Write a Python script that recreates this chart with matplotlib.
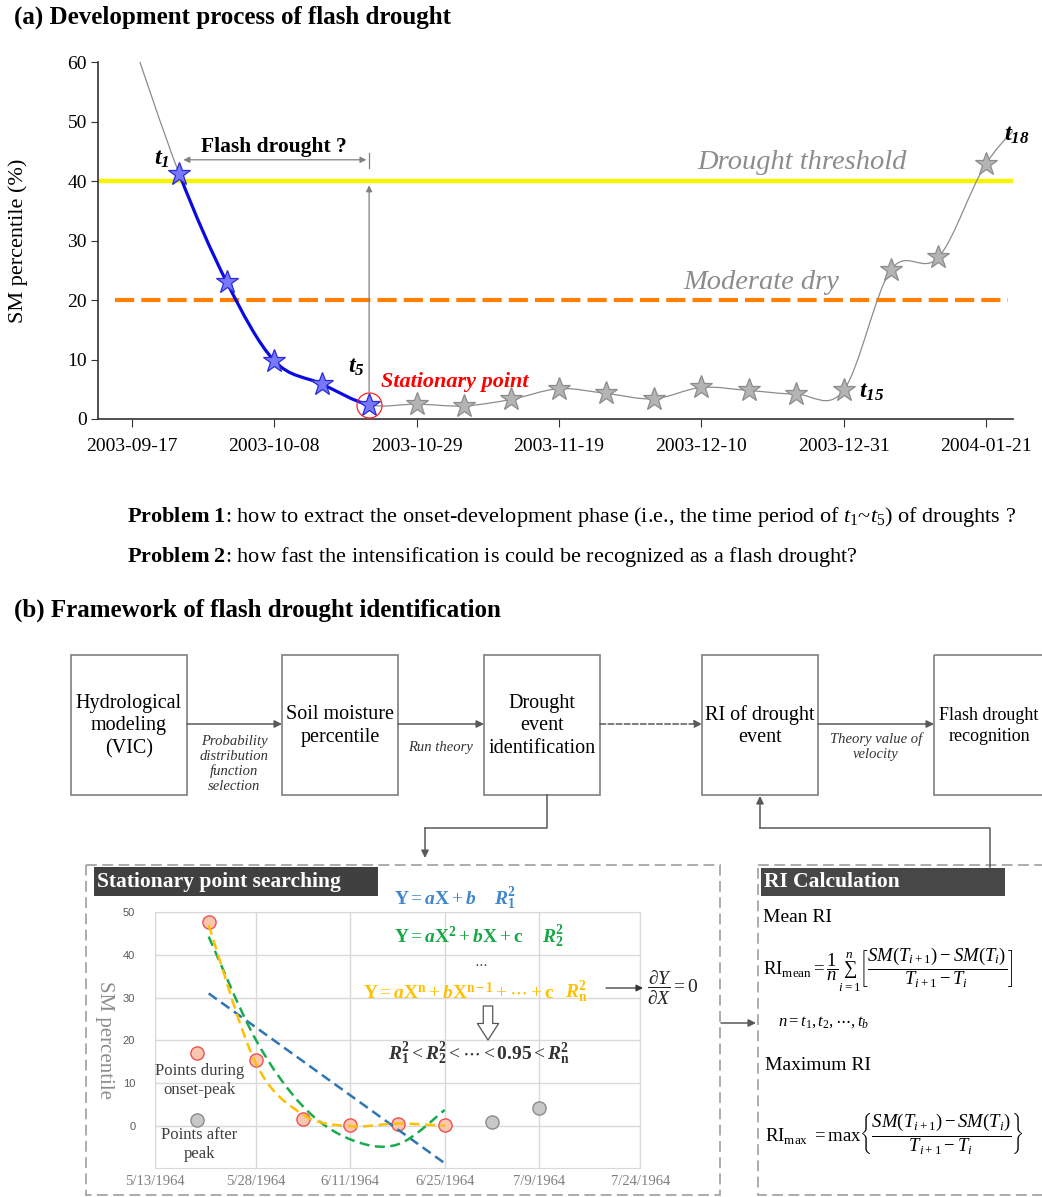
import numpy as np
import matplotlib
matplotlib.use('Agg')
import matplotlib.pyplot as plt
import matplotlib.dates as mdates
import matplotlib.transforms as mtransforms
from matplotlib.lines import Line2D
from matplotlib.path import Path
from matplotlib.patches import PathPatch, Rectangle, FancyArrowPatch

plt.rcParams['font.family'] = ['Liberation Serif', 'DejaVu Serif']
plt.rcParams['mathtext.fontset'] = 'custom'
plt.rcParams['mathtext.rm'] = 'Liberation Serif'
plt.rcParams['mathtext.it'] = 'Liberation Serif:italic'
plt.rcParams['mathtext.bf'] = 'Liberation Serif:bold'
plt.rcParams['mathtext.bfit'] = 'Liberation Serif:italic:bold'

# (a) weekly SM percentile; first value is the lead-in before t1, last one runs off the axis
sm_dates = ['2003-09-17', '2003-09-24', '2003-10-01', '2003-10-08', '2003-10-15',
            '2003-10-22', '2003-10-29', '2003-11-05', '2003-11-12', '2003-11-19',
            '2003-11-26', '2003-12-03', '2003-12-10', '2003-12-17', '2003-12-24',
            '2003-12-31', '2004-01-07', '2004-01-14', '2004-01-21', '2004-01-28']
sm_values = [64.0, 41.2, 23.0, 9.8, 5.9, 2.4, 2.5, 2.2, 3.3, 5.1, 4.3, 3.4,
             5.3, 4.8, 4.2, 4.8, 25.1, 27.2, 42.9, 52.0]
tick_dates_a = ['2003-09-17', '2003-10-08', '2003-10-29', '2003-11-19',
                '2003-12-10', '2003-12-31', '2004-01-21']
drought_threshold = 40
moderate_dry = 20
t_first, t_peak, t_rise, t_last = 1, 5, 15, 18

# (b) inset: stationary point searching
ins_dates = ['1964-05-21', '1964-05-28', '1964-06-04', '1964-06-11',
             '1964-06-18', '1964-06-25', '1964-07-02', '1964-07-09']
ins_values = [47.7, 15.3, 1.5, 0.2, 0.3, 0.1, 0.9, 4.2]
n_onset = 6
lin_fit = [31.0, -8.8]                          # at first and sixth date
quad_fit = [44.3, 20.1, 4.5, -3.2, -4.4, 3.7]
poly_fit = [47.0, 14.6, 2.6, -0.1, 0.5, 0.0]
ins_tick_dates = ['1964-05-13', '1964-05-28', '1964-06-11', '1964-06-25',
                  '1964-07-09', '1964-07-24']
ins_tick_labels = ['5/13/1964', '5/28/1964', '6/11/1964', '6/25/1964',
                   '7/9/1964', '7/24/1964']

box_labels = ['Hydrological\nmodeling\n(VIC)', 'Soil moisture\npercentile',
              'Drought\nevent\nidentification', 'RI of drought\nevent',
              'Flash drought\nrecognition']
arrow_labels = ['Probability\ndistribution\nfunction\nselection', 'Run theory', '',
                'Theory value of\nvelocity']


def to_num(dates):
    return mdates.date2num(np.array(dates, dtype='datetime64[D]'))


def smooth_path(x, y, start, stop):
    # excel-like smoothed line (cubic bezier through the points)
    verts = [(x[start], y[start])]
    codes = [Path.MOVETO]
    n = len(x)
    for i in range(start, stop):
        i0 = max(i - 1, 0)
        i3 = min(i + 2, n - 1)
        c1 = (x[i] + (x[i + 1] - x[i0]) / 6, y[i] + (y[i + 1] - y[i0]) / 6)
        c2 = (x[i + 1] - (x[i3] - x[i]) / 6, y[i + 1] - (y[i3] - y[i]) / 6)
        verts += [c1, c2, (x[i + 1], y[i + 1])]
        codes += [Path.CURVE4] * 3
    return Path(verts, codes)


W, H = 1042, 1197
fig = plt.figure(figsize=(W / 100, H / 100), dpi=100)
pix = mtransforms.Affine2D().scale(1 / W, -1 / H).translate(0, 1) + fig.transFigure

# ---------------- (a) ----------------
ax = fig.add_axes([98 / W, 1 - 419 / H, 915 / W, 356.7 / H])
x = to_num(sm_dates)
y = np.array(sm_values)
ax.set_xlim(to_num(['2003-09-12'])[0], to_num(['2004-01-25'])[0])
ax.set_ylim(0, 60)

ax.axhline(drought_threshold, color='#f5f500', lw=3.2, zorder=1)
ax.axhline(moderate_dry, xmin=0.019, xmax=0.994, color='#ff8000', lw=3,
           ls=(0, (4.6, 1.7)), zorder=1)

ax.add_patch(PathPatch(smooth_path(x, y, 0, len(x) - 1), fill=False,
                       ec='#8c8c8c', lw=0.9, zorder=2))
ax.add_patch(PathPatch(smooth_path(x, y, t_first, t_peak), fill=False,
                       ec='#0a0ae0', lw=2.3, zorder=3))
ax.plot(x[t_first:t_peak + 1], y[t_first:t_peak + 1], '*', ms=17,
        mfc='#7878ff', mec='#2a2ad8', mew=0.9, zorder=4)
ax.plot(x[t_peak + 1:t_last + 1], y[t_peak + 1:t_last + 1], '*', ms=17,
        mfc='#b4b4b4', mec='#8c8c8c', mew=0.9, zorder=4)
ax.plot(x[t_peak], y[t_peak], 'o', ms=18, mfc='none', mec='#ff2020', mew=0.9, zorder=5)

# flash drought bracket and vertical arrow
bracket_y = 43.6
ax.annotate('', xy=(x[t_peak] - 0.4, bracket_y), xytext=(x[t_first] + 0.6, bracket_y),
            arrowprops=dict(arrowstyle='<|-|>', color='#808080', lw=0.9,
                            mutation_scale=9, shrinkA=0, shrinkB=0))
ax.plot([x[t_peak], x[t_peak]], [42.2, 44.8], color='#808080', lw=0.9)
ax.annotate('', xy=(x[t_peak], drought_threshold - 0.7), xytext=(x[t_peak], y[t_peak] + 2.2),
            arrowprops=dict(arrowstyle='-|>', color='#808080', lw=0.9,
                            mutation_scale=9, shrinkA=0, shrinkB=0))
ax.text((x[t_first] + x[t_peak]) / 2, 44.9, 'Flash drought ?', ha='center',
        va='baseline', fontsize=15.5, fontweight='bold')

tl = dict(textcoords='offset points', va='baseline', fontsize=17.5)
ax.annotate(r'$\mathbfit{t_1}$', (x[t_first], y[t_first]), (-7, 6.5), ha='right', **tl)
ax.annotate(r'$\mathbfit{t_5}$', (x[t_peak], y[t_peak]), (-3, 23), ha='right', **tl)
ax.annotate(r'$\mathbfit{t_{15}}$', (x[t_rise], y[t_rise]), (11, -5), ha='left', **tl)
ax.annotate(r'$\mathbfit{t_{18}}$', (x[t_last], y[t_last]), (13, 17), ha='left', **tl)
ax.annotate('Stationary point', (x[t_peak], y[t_peak]), (8.5, 13), textcoords='offset points',
            ha='left', va='baseline', fontsize=16, color='#ff0000',
            fontstyle='italic', fontweight='bold')

ax.text(0.769, 42.0, 'Drought threshold', transform=ax.get_yaxis_transform(),
        ha='center', va='baseline', fontsize=20.5, fontstyle='italic', color='#8c8c8c')
ax.text(0.725, 21.9, 'Moderate dry', transform=ax.get_yaxis_transform(),
        ha='center', va='baseline', fontsize=20.5, fontstyle='italic', color='#8c8c8c')

ax.set_xticks(to_num(tick_dates_a))
ax.set_xticklabels(tick_dates_a)
ax.set_yticks(range(0, 61, 10))
for s in ['top', 'right']:
    ax.spines[s].set_visible(False)
for s in ['left', 'bottom']:
    ax.spines[s].set_color('#333333')
    ax.spines[s].set_linewidth(1.2)
ax.tick_params(axis='x', length=6, pad=8, labelsize=14, color='#333333')
ax.tick_params(axis='y', length=5, pad=3, labelsize=14, color='#333333')
ax.set_ylabel('SM percentile (%)', fontsize=16)
ax.yaxis.set_label_coords(-0.076, 0.5)

# ---------------- text blocks ----------------
fig.text(14, 17, '(a) Development process of flash drought', transform=pix,
         fontsize=18, fontweight='bold', va='center')
fig.text(127, 517, r'$\mathbf{Problem\ 1}$: how to extract the onset-development phase '
         r'(i.e., the time period of $t_1$~$t_5$) of droughts ?', transform=pix,
         fontsize=16, va='center')
fig.text(127, 557, r'$\mathbf{Problem\ 2}$: how fast the intensification is could be '
         'recognized as a flash drought?', transform=pix, fontsize=16, va='center')
fig.text(14, 610, '(b) Framework of flash drought identification', transform=pix,
         fontsize=18, fontweight='bold', va='center')

# ---------------- flowchart ----------------
box_left = [71, 282, 484, 702, 934]
box_w, box_top, box_h, mid_y = 116, 655, 140, 726
for bx, lab in zip(box_left, box_labels):
    fig.add_artist(Rectangle((bx, box_top), box_w, box_h, transform=pix, fill=False,
                             ec='#7f7f7f', lw=1.2))
    last = bx == box_left[-1]
    fig.text(bx + box_w / 2 - (3 if last else 0), mid_y, lab, transform=pix,
             ha='center', va='center', fontsize=13 if last else 14.5, linespacing=1.25)

for k in range(4):
    x0 = box_left[k] + box_w
    x1 = box_left[k + 1]
    fig.add_artist(FancyArrowPatch((x0, 724), (x1, 724), transform=pix,
                                   arrowstyle='-|>', mutation_scale=11, color='#595959',
                                   lw=1.1, ls='--' if k == 2 else '-',
                                   shrinkA=0, shrinkB=0))
    if arrow_labels[k]:
        ly = 764 if k == 0 else 747
        fig.text((x0 + x1) / 2, ly, arrow_labels[k], transform=pix, ha='center',
                 va='center', fontsize=10.5, fontstyle='italic', color='#333333',
                 linespacing=1.2)

fig.add_artist(Line2D([547, 547, 425], [795, 828, 828], transform=pix,
                      color='#595959', lw=1.1))
fig.add_artist(FancyArrowPatch((425, 828), (425, 858), transform=pix, arrowstyle='-|>',
                               mutation_scale=11, color='#595959', lw=1.1,
                               shrinkA=0, shrinkB=0))
fig.add_artist(Line2D([990, 990, 760], [867, 828, 828], transform=pix,
                      color='#595959', lw=1.1))
fig.add_artist(FancyArrowPatch((760, 828), (760, 796), transform=pix, arrowstyle='-|>',
                               mutation_scale=11, color='#595959', lw=1.1,
                               shrinkA=0, shrinkB=0))
fig.add_artist(FancyArrowPatch((721, 1023), (756, 1023), transform=pix, arrowstyle='-|>',
                               mutation_scale=11, color='#595959', lw=1.1,
                               shrinkA=0, shrinkB=0))

# dashed panels and their title bars
fig.add_artist(Rectangle((86, 865), 634, 330, transform=pix, fill=False,
                         ec='#a6a6a6', lw=1.3, ls=(0, (6, 3))))
fig.add_artist(Rectangle((758, 865), 300, 330, transform=pix, fill=False,
                         ec='#a6a6a6', lw=1.3, ls=(0, (6, 3))))
fig.add_artist(Rectangle((94, 867), 284, 29, transform=pix, fc='#404040', ec='none'))
fig.text(97, 882, 'Stationary point searching', transform=pix, color='white',
         fontsize=15.5, fontweight='bold', va='center')
fig.add_artist(Rectangle((761, 868), 244, 28, transform=pix, fc='#474747', ec='none'))
fig.text(764, 882, 'RI Calculation', transform=pix, color='white',
         fontsize=15.5, fontweight='bold', va='center')

# ---------------- inset chart ----------------
ax2 = fig.add_axes([154.7 / W, 1 - 1168.4 / H, 485.7 / W, 256.1 / H])
xi = to_num(ins_dates)
ax2.set_xlim(to_num(ins_tick_dates)[0], to_num(ins_tick_dates)[-1])
ax2.set_ylim(-10, 50)
ax2.set_yticks(range(0, 51, 10))
ax2.set_xticks(to_num(ins_tick_dates))
ax2.set_xticklabels(ins_tick_labels, fontsize=10.5, color='#7f7f7f')
for lab in ax2.get_yticklabels():
    lab.set_fontfamily('Liberation Sans')
    lab.set_fontsize(8)
    lab.set_color('#595959')
ax2.grid(True, color='#d9d9d9', lw=1)
ax2.set_axisbelow(True)
for s in ax2.spines.values():
    s.set_color('#d9d9d9')
ax2.tick_params(length=0)
ax2.tick_params(axis='y', pad=14)
ax2.tick_params(axis='x', pad=5)
ax2.set_ylabel('SM percentile', rotation=270, fontsize=15, color='#8c8c8c', va='center')
ax2.yaxis.set_label_coords(-0.103, 0.5)

ax2.plot(xi[:n_onset], ins_values[:n_onset], 'o', ms=9.5, mfc='#f9c6b0', mec='#f05050',
         mew=1, zorder=3)
ax2.plot(xi[n_onset:], ins_values[n_onset:], 'o', ms=9.5, mfc='#c8c8c8', mec='#8c8c8c',
         mew=1, zorder=3)
ax2.plot([xi[0], xi[n_onset - 1]], lin_fit, color='#2e75b6', lw=1.8, ls=(0, (4, 2.2)),
         zorder=4)
ax2.add_patch(PathPatch(smooth_path(xi[:n_onset], quad_fit, 0, n_onset - 1), fill=False,
                        ec='#1aab4b', lw=1.8, ls=(0, (4, 2.2)), zorder=4))
ax2.add_patch(PathPatch(smooth_path(xi[:n_onset], poly_fit, 0, n_onset - 1), fill=False,
                        ec='#ffc000', lw=1.8, ls=(0, (4, 2.2)), zorder=5))

# legend keys
ax2.plot(0.088, 0.449, 'o', ms=9.5, mfc='#f9c6b0', mec='#f05050', mew=1,
         transform=ax2.transAxes, clip_on=False)
ax2.plot(0.088, 0.189, 'o', ms=9.5, mfc='#c8c8c8', mec='#8c8c8c', mew=1,
         transform=ax2.transAxes, clip_on=False)
ax2.text(0.092, 0.345, 'Points during\nonset-peak', transform=ax2.transAxes, ha='center',
         va='center', fontsize=12, color='#404040', linespacing=1.25)
ax2.text(0.092, 0.092, 'Points after\npeak', transform=ax2.transAxes, ha='center',
         va='center', fontsize=12, color='#404040', linespacing=1.25)

# fitting equations
eq = dict(transform=pix, va='center', fontsize=14)
fig.text(394, 899, r'$\mathbf{Y}=\mathbfit{a}\mathbf{X}+\mathbfit{b}$', color='#3f86cc', **eq)
fig.text(494, 899, r'$\mathbfit{R}_{\mathbf{1}}^{\mathbf{2}}$', color='#3f86cc', **eq)
fig.text(394, 937, r'$\mathbf{Y}=\mathbfit{a}\mathbf{X}^{\mathbf{2}}+\mathbfit{b}\mathbf{X}+\mathbf{c}$',
         color='#14a844', **eq)
fig.text(542, 937, r'$\mathbfit{R}_{\mathbf{2}}^{\mathbf{2}}$', color='#14a844', **eq)
fig.text(481, 964, r'$\cdots$', transform=pix, ha='center', va='center', fontsize=10,
         color='#404040')
fig.text(363, 992, r'$\mathbf{Y}=\mathbfit{a}\mathbf{X}^{\mathbf{n}}+\mathbfit{b}'
         r'\mathbf{X}^{\mathbf{n-1}}+\cdots+\mathbf{c}$', color='#ffc000', **eq)
fig.text(565, 992, r'$\mathbfit{R}_{\mathbf{n}}^{\mathbf{2}}$', color='#ffc000', **eq)
fig.add_artist(FancyArrowPatch((606, 988), (643, 988), transform=pix, arrowstyle='-|>',
                               mutation_scale=10, color='#333333', lw=0.9,
                               shrinkA=0, shrinkB=0))
fig.text(647, 988, r'$\dfrac{\partial Y}{\partial X}=0$', transform=pix, va='center',
         fontsize=14, color='#222222')
fig.add_artist(FancyArrowPatch((488, 1006), (488, 1040), transform=pix,
                               arrowstyle='simple,head_length=0.7,head_width=0.9,tail_width=0.4',
                               mutation_scale=17, fc='white', ec='#555555', lw=0.9,
                               shrinkA=0, shrinkB=0))
fig.text(388, 1054, r'$\mathbfit{R}_{\mathbf{1}}^{\mathbf{2}}<\mathbfit{R}_{\mathbf{2}}^{\mathbf{2}}'
         r'<\cdots<\mathbf{0.95}<\mathbfit{R}_{\mathbf{n}}^{\mathbf{2}}$',
         color='#333333', **eq)

# RI calculation panel
fig.text(763, 918, 'Mean RI', transform=pix, fontsize=14, va='center')
fig.text(763, 970, r'$\mathrm{RI}_{\mathrm{mean}}=\dfrac{1}{n}\sum_{i=1}^{n}'
         r'\left[\dfrac{SM(T_{i+1})-SM(T_i)}{T_{i+1}-T_i}\right]$',
         transform=pix, fontsize=13.5, va='center')
fig.text(778, 1022, r'$n=t_1,t_2,\cdots,t_b$', transform=pix, fontsize=12, va='center')
fig.text(765, 1065, 'Maximum RI', transform=pix, fontsize=14, va='center')
fig.text(765, 1133, r'$\mathrm{RI}_{\max}\ =\max\left\{\dfrac{SM(T_{i+1})-SM(T_i)}'
         r'{T_{i+1}-T_i}\right\}$', transform=pix, fontsize=13.5, va='center')

fig.savefig('out.png', dpi=100)
